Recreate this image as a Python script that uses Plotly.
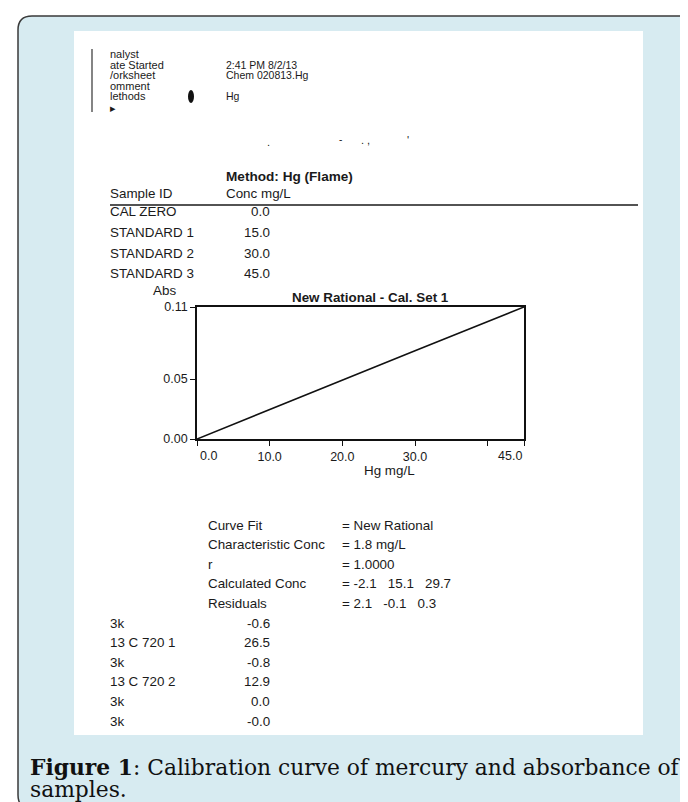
import plotly.graph_objects as go

W, H = 688, 802

# ---------------- data ----------------
header_labels = ["nalyst", "ate Started", "/orksheet", "omment", "lethods", "\u25b8"]
header_values = ["", "2:41 PM 8/2/13", "Chem 020813.Hg", "", "Hg", ""]

method_title = "Method: Hg (Flame)"
std_ids = ["CAL ZERO", "STANDARD 1", "STANDARD 2", "STANDARD 3"]
std_conc = [0.0, 15.0, 30.0, 45.0]
std_abs = [0.0, 0.037, 0.0735, 0.11]

chart_title = "New Rational - Cal. Set 1"
x_ticks = [0, 10, 20, 30, 40, 45]
x_ticktext = ["", "10.0", "20.0", "30.0", "", ""]
x_edge_labels = [(0, "0.0"), (45, "45.0")]
y_ticks = [0.0, 0.05, 0.11]
y_ticktext = ["0.00", "0.05", "0.11"]

fit_labels = ["Curve Fit", "Characteristic Conc", "r", "Calculated Conc", "Residuals"]
curve_fit = "New Rational"
char_conc = "1.8 mg/L"
r_value = "1.0000"
calc_conc = [-2.1, 15.1, 29.7]
residuals = [2.1, -0.1, 0.3]

sample_ids = ["3k", "13 C 720 1", "3k", "13 C 720 2", "3k", "3k"]
sample_conc = [-0.6, 26.5, -0.8, 12.9, 0.0, -0.0]

caption_line1 = ["Figure 1", ": Calibration curve of mercury and absorbance of"]
caption_line2 = "samples."

# ---------------- helpers ----------------
def px(x):
    return x / W

def py(y):
    return 1 - y / H

INK = "#1a1a1a"
SANS = "Liberation Sans, Arial, sans-serif"
BODY = 13.4

annotations = []

def txt(x, y, s, size=BODY, anchor="left", bold=False, color=INK, family=SANS):
    annotations.append(dict(
        x=px(x), y=py(y), xref="paper", yref="paper", text=(f"<b>{s}</b>" if bold else s),
        showarrow=False, xanchor=anchor, yanchor="middle", borderpad=0,
        font=dict(size=size, color=color, family=family)))

fmt = lambda v: f"{v:.1f}"

# ---------------- figure ----------------
fig = go.Figure()
fig.add_trace(go.Scatter(x=std_conc, y=std_abs, mode="lines",
                         line=dict(color="#111", width=1.6),
                         hoverinfo="skip", showlegend=False))

shapes = []
# outer rounded panel
x0, y0, x1, y1, r = 10, 8, 700, 801, 14
path = (f"M {px(x0+r)} {py(y0)} L {px(x1-r)} {py(y0)} "
        f"Q {px(x1)} {py(y0)} {px(x1)} {py(y0+r)} L {px(x1)} {py(y1-r)} "
        f"Q {px(x1)} {py(y1)} {px(x1-r)} {py(y1)} L {px(x0+r)} {py(y1)} "
        f"Q {px(x0)} {py(y1)} {px(x0)} {py(y1-r)} L {px(x0)} {py(y0+r)} "
        f"Q {px(x0)} {py(y0)} {px(x0+r)} {py(y0)} Z")
shapes.append(dict(type="path", path=path, xref="paper", yref="paper",
                   fillcolor="#d7ebf1", line=dict(color="#3a3a3a", width=1.5), layer="below"))
# white scanned page
shapes.append(dict(type="rect", xref="paper", yref="paper",
                   x0=px(66), x1=px(635), y0=py(727), y1=py(23),
                   fillcolor="white", line=dict(width=0), layer="below"))
# margin bar of the header
shapes.append(dict(type="line", xref="paper", yref="paper",
                   x0=px(84), x1=px(84), y0=py(41), y1=py(104),
                   line=dict(color="#333", width=1.2)))
# ink blot
shapes.append(dict(type="circle", xref="paper", yref="paper",
                   x0=px(180), x1=px(186), y0=py(95), y1=py(82),
                   fillcolor="#111", line=dict(width=0)))
# rule under table header
shapes.append(dict(type="line", xref="paper", yref="paper",
                   x0=px(102), x1=px(630), y0=py(197), y1=py(197),
                   line=dict(color="#1a1a1a", width=1.6)))

# header block
hy = [46, 57, 67, 78, 88, 100]
for lab, val, y in zip(header_labels, header_values, hy):
    txt(101, y, lab, size=11)
    if val:
        txt(217, y, val, size=10.5)
txt(258, 134, ".", size=11)
txt(330, 132, "-", size=10)
txt(352, 132, ". ,", size=11)
txt(398, 132, "'", size=11)

# method / sample table
txt(217, 168, method_title, size=13.6, bold=True)
txt(101, 185, "Sample ID")
txt(217, 185, "Conc mg/L")
for i, (sid, c) in enumerate(zip(std_ids, std_conc)):
    y = 204 + i * 20.5
    txt(101, y, sid)
    txt(263, y, fmt(c), anchor="right")

# chart labels
txt(144, 282, "Abs")
txt(362, 289, chart_title, size=13.4, anchor="center", bold=True)
txt(355, 463, "Hg mg/L")
for xv, lab in x_edge_labels:
    annotations.append(dict(
        x=xv, y=py(448), xref="x", yref="paper", text=lab, showarrow=False,
        xanchor="left" if xv == 0 else "right", yanchor="middle", borderpad=0,
        xshift=2 if xv == 0 else -1,
        font=dict(size=12.5, color=INK, family=SANS)))

# curve fit block
fit_values = ["= " + curve_fit, "= " + char_conc, "= " + r_value,
              "= " + "   ".join(fmt(v) for v in calc_conc),
              "= " + "   ".join(fmt(v) for v in residuals)]
for i, (lab, val) in enumerate(zip(fit_labels, fit_values)):
    y = 517 + i * 19.6
    txt(199, y, lab)
    txt(333, y, val)

# samples
for i, (sid, c) in enumerate(zip(sample_ids, sample_conc)):
    y = 615 + i * 19.6
    txt(101, y, sid)
    txt(263, y, fmt(c), anchor="right")

# caption
CAP = "DejaVu Serif, serif"
annotations.append(dict(
    x=px(20), y=py(759), xref="paper", yref="paper",
    text=f"<b>{caption_line1[0]}</b>{caption_line1[1]}", showarrow=False,
    xanchor="left", yanchor="middle", align="left",
    font=dict(size=21.8, color="#111", family=CAP)))
annotations.append(dict(
    x=px(20), y=py(781), xref="paper", yref="paper",
    text=caption_line2, showarrow=False,
    xanchor="left", yanchor="middle", align="left",
    font=dict(size=21.8, color="#111", family=CAP)))

axis_common = dict(showgrid=False, zeroline=False, showline=True, mirror=True,
                   linecolor="#111", linewidth=1.6, ticks="outside", ticklen=5, tickwidth=1.2,
                   tickcolor="#111", tickfont=dict(size=12.5, color=INK, family=SANS),
                   automargin=False)

fig.update_layout(
    width=W, height=H,
    margin=dict(l=0, r=0, t=0, b=0),
    paper_bgcolor="white", plot_bgcolor="white",
    showlegend=False,
    shapes=shapes, annotations=annotations,
    xaxis=dict(domain=[px(189), px(516)], range=[0, 45], tickvals=x_ticks, ticktext=x_ticktext,
               **axis_common),
    yaxis=dict(domain=[py(431), py(299)], range=[0, 0.11], tickvals=y_ticks, ticktext=y_ticktext,
               **axis_common),
)

fig.write_html("out.html")
